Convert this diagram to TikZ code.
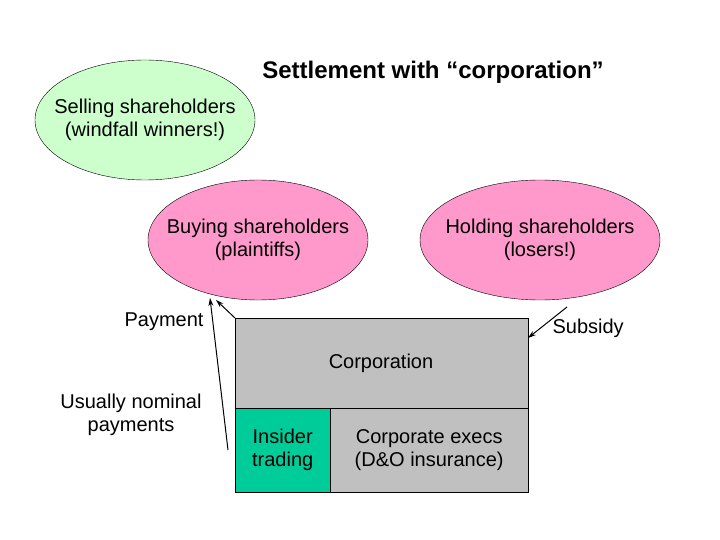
\documentclass[tikz,border=0pt]{standalone}
\usepackage{fontspec}
\setmainfont{Liberation Sans}
\usetikzlibrary{arrows.meta}
\begin{document}
\begin{tikzpicture}[x=1pt,y=-1pt,
  ell/.style={draw,line width=0.6pt,ellipse,inner sep=0pt},
  txt/.style={font=\fontsize{20}{23}\selectfont,align=center},
  arr/.style={-{Stealth[length=8pt,width=5pt]},line width=1pt}]
\useasboundingbox (0,0) rectangle (720,540);
\node[font=\fontsize{24}{28}\selectfont\bfseries] (title) at (433,72) {Settlement with “corporation”};
\draw[fill={rgb,255:red,204;green,255;blue,204}] (145,120) ellipse (110 and 60);
\node[txt] (sell) at (145,120) {Selling shareholders\\(windfall winners!)};
\draw[fill={rgb,255:red,255;green,153;blue,204}] (258,240) ellipse (110 and 60);
\node[txt] (buy) at (258,240) {Buying shareholders\\(plaintiffs)};
\draw[fill={rgb,255:red,255;green,153;blue,204}] (540,240) ellipse (120 and 60);
\node[txt] (hold) at (540,240) {Holding shareholders\\(losers!)};
\node[draw,fill={rgb,255:red,192;green,192;blue,192},minimum width=293pt,minimum height=90pt,anchor=north west,inner sep=0pt] (corp) at (235,318) {};
\node[txt] (corptext) at (381,363) {Corporation};
\node[draw,fill={rgb,255:red,0;green,204;blue,153},minimum width=95pt,minimum height=84pt,anchor=north west,inner sep=0pt] (ins) at (235,408) {};
\node[draw,fill={rgb,255:red,192;green,192;blue,192},minimum width=198pt,minimum height=84pt,anchor=north west,inner sep=0pt] (execs) at (330,408) {};
\node[txt] at (ins.center) {Insider\\trading};
\node[txt] at (execs.center) {Corporate execs\\(D\&O insurance)};
\node[txt,anchor=east] (pay) at (207,322) {Payment};
\node[txt,anchor=west] (sub) at (549,328) {Subsidy};
\node[txt] (nom) at (131,415) {Usually nominal\\payments};
\coordinate (a1) at (216,300);
\coordinate (a2) at (210,298);
\coordinate (s1) at (528,338);
\coordinate (n1) at (228,450);
\coordinate (h1) at (567,307);
\draw[arr] (corp.north west) -- (a1);
\draw[arr] (n1) -- (a2);
\draw[arr] (h1) -- (s1);
\end{tikzpicture}
\end{document}
